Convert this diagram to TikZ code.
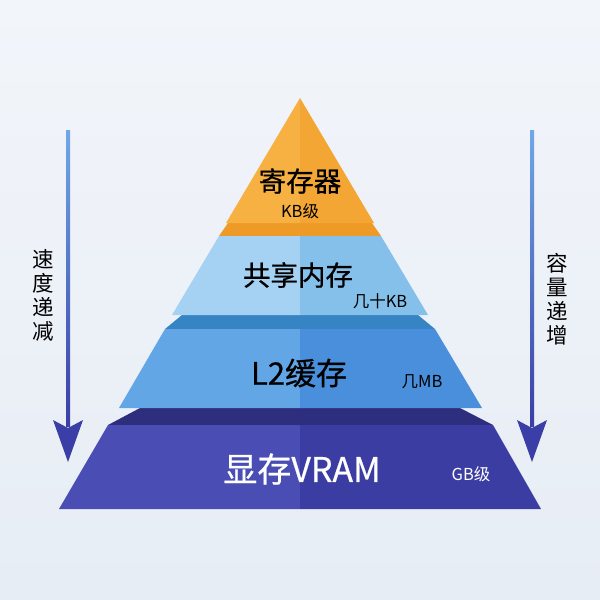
\documentclass[tikz,border=0pt]{standalone}
\usepackage{fontspec}
\setmainfont{Noto Sans CJK SC}
\newfontfamily\medfont[FakeBold=0.6]{Noto Sans CJK SC}
\usetikzlibrary{calc}
\definecolor{bgtop}{RGB}{242,245,250}
\definecolor{bgbot}{RGB}{231,237,245}
\definecolor{orL}{RGB}{247,177,67}
\definecolor{orR}{RGB}{243,166,51}
\definecolor{orBand}{RGB}{238,154,38}
\definecolor{lbL}{RGB}{165,210,243}
\definecolor{lbR}{RGB}{132,192,234}
\definecolor{mbBand}{RGB}{54,132,196}
\definecolor{l2L}{RGB}{98,166,230}
\definecolor{l2R}{RGB}{74,143,219}
\definecolor{dkBand}{RGB}{45,47,126}
\definecolor{vrL}{RGB}{74,77,180}
\definecolor{vrR}{RGB}{59,61,162}
\definecolor{arTop}{RGB}{110,168,232}
\definecolor{arBot}{RGB}{58,62,166}
\tikzset{
  big/.style={font=\medfont\fontsize{27.5}{30}\selectfont, inner sep=0pt},
  bigger/.style={font=\medfont\fontsize{31}{33}\selectfont, inner sep=0pt},
  biggest/.style={font=\medfont\fontsize{34}{36}\selectfont, inner sep=0pt},
  small/.style={font=\fontsize{16.5}{18}\selectfont, inner sep=0pt},
  side/.style={font=\fontsize{21.5}{24}\selectfont, inner sep=0pt, align=center},
}
\begin{document}
\begin{tikzpicture}[x=1pt,y=-1pt]
\useasboundingbox (0,0) rectangle (600,600);
\shade[top color=bgtop, bottom color=bgbot] (0,0) rectangle (600,600);

% VRAM tier
\fill[dkBand] (140,408) -- (460,408) -- (493,425) -- (108,425) -- cycle;
\fill[vrL] (108,425) -- (300,425) -- (300,509) -- (59,509) -- cycle;
\fill[vrR] (300,425) -- (493,425) -- (541,509) -- (300,509) -- cycle;

% L2 tier
\fill[mbBand] (182,315) -- (418,315) -- (435,329) -- (165,329) -- cycle;
\fill[l2L] (165,329) -- (300,329) -- (300,408) -- (119,408) -- cycle;
\fill[l2R] (300,329) -- (435,329) -- (482,408) -- (300,408) -- cycle;

% shared memory tier
\fill[orBand] (228,223) -- (372,223) -- (381,236) -- (219,236) -- cycle;
\fill[lbL] (219,236) -- (300,236) -- (300,315) -- (172,315) -- cycle;
\fill[lbR] (300,236) -- (381,236) -- (428,315) -- (300,315) -- cycle;

% register tier
\fill[orL] (300,98) -- (300,223) -- (226,223) -- cycle;
\fill[orR] (300,98) -- (374,223) -- (300,223) -- cycle;

% labels
\node[big] (reg) at (300,181) {寄存器};
\node[small] (regs) at (300,211) {KB级};
\node[big] (smem) at (298,275) {共享内存};
\node[small] (smems) at (380,301) {几十KB};
\node[bigger] (l2) at (299,373) {L2缓存};
\node[small] (l2s) at (422,382) {几MB};
\node[biggest, text=white] (vram) at (302,469) {显存VRAM};
\node[small, text=white] (vrams) at (471,474) {GB级};

% left arrow
\coordinate (ls) at (68,130);
\coordinate (le) at (68,462);
\shade[top color=arTop, bottom color=arBot] ($(ls)+(-2,0)$) rectangle ($(le)+(2,-36)$);
\fill[arBot] ($(le)+(-15,-42)$) -- ($(le)+(0,-34)$) -- ($(le)+(15,-42)$) -- (le) -- cycle;
\node[side] (lt) at (43,295) {速\\度\\递\\减};

% right arrow
\coordinate (rs) at (532,130);
\coordinate (re) at (532,462);
\shade[top color=arTop, bottom color=arBot] ($(rs)+(-2,0)$) rectangle ($(re)+(2,-36)$);
\fill[arBot] ($(re)+(-15,-42)$) -- ($(re)+(0,-34)$) -- ($(re)+(15,-42)$) -- (re) -- cycle;
\node[side] (rt) at (557,299) {容\\量\\递\\增};
\end{tikzpicture}
\end{document}
